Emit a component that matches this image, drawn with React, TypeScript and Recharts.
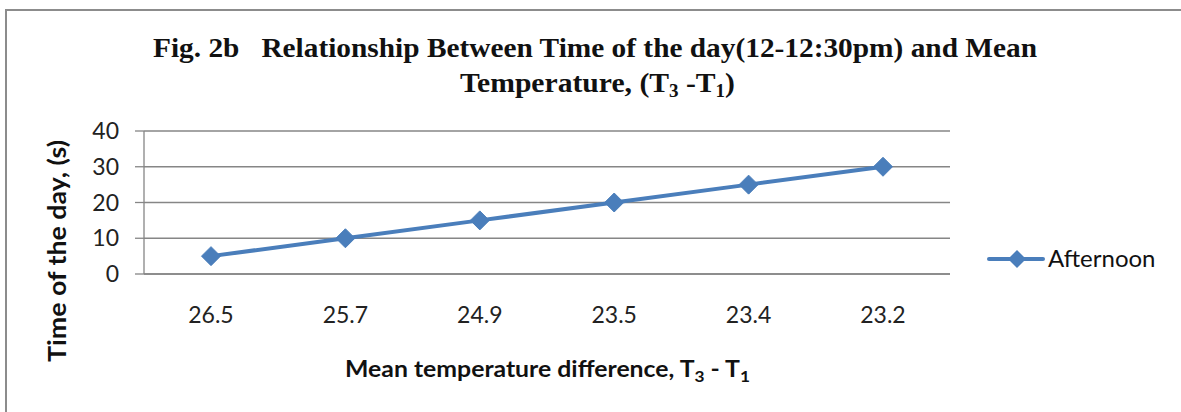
import { LineChart, Line, XAxis, YAxis, CartesianGrid } from 'recharts'

const categories = ['26.5', '25.7', '24.9', '23.5', '23.4', '23.2']
const afternoon = [5, 10, 15, 20, 25, 30]
const yTicks = [0, 10, 20, 30, 40]

const data = categories.map((c, i) => ({ cat: c, afternoon: afternoon[i] }))

const BLUE = '#4A7EBB'
const GRID = '#868686'
const SANS = 'Lato, "Open Sans", sans-serif'

function Diamond(props: any) {
  const { cx, cy } = props
  if (cx == null || cy == null) return null
  const r = 9.5
  return (
    <path
      d={`M${cx},${cy - r}L${cx + r},${cy}L${cx},${cy + r}L${cx - r},${cy}Z`}
      fill={BLUE}
      stroke={BLUE}
    />
  )
}

function App() {
  return (
    <div style={{ position: 'absolute', left: 0, top: 0, width: 1181, height: 412, background: '#fff', overflow: 'hidden' }}>
      <div
        style={{
          position: 'absolute',
          left: 5,
          top: 9,
          width: 1190,
          height: 420,
          border: '2px solid #8c8c8c',
        }}
      />
      <LineChart
        width={1181}
        height={412}
        data={data}
        margin={{ top: 131, right: 231, bottom: 0, left: 0 }}
        style={{ position: 'absolute', left: 0, top: 0 }}
      >
        <CartesianGrid vertical={false} stroke={GRID} strokeWidth={1.3} />
        <XAxis
          dataKey="cat"
          height={138}
          padding={{ left: 67, right: 67 }}
          axisLine={{ stroke: GRID, strokeWidth: 1.3 }}
          tickLine={false}
          tickMargin={27}
          tick={{ fill: '#222', fontSize: 23, fontFamily: SANS }}
        />
        <YAxis
          width={144}
          domain={[0, 40]}
          ticks={yTicks}
          axisLine={{ stroke: GRID, strokeWidth: 1.3 }}
          tickLine={{ stroke: GRID, strokeWidth: 1.3 }}
          tickSize={9}
          tickMargin={16}
          tick={{ fill: '#222', fontSize: 23, fontFamily: SANS }}
        />
        <Line
          dataKey="afternoon"
          stroke={BLUE}
          strokeWidth={4}
          dot={<Diamond />}
          activeDot={false}
          isAnimationActive={false}
        />
      </LineChart>
      <svg width={1181} height={412} style={{ position: 'absolute', left: 0, top: 0, pointerEvents: 'none' }}>
        <g fontFamily='"Liberation Serif", "Times New Roman", serif' fontWeight="bold" fill="#111">
          <text x={153} y={57} fontSize={28} textLength={884} lengthAdjust="spacingAndGlyphs" style={{ whiteSpace: 'pre' }}>
            Fig. 2b   Relationship Between Time of the day(12-12:30pm) and Mean
          </text>
          <text x={460} y={92} fontSize={28} textLength={275} lengthAdjust="spacingAndGlyphs">
            Temperature, (T<tspan fontSize={18} dy={5}>3</tspan>
            <tspan dy={-5}> -T</tspan>
            <tspan fontSize={18} dy={5}>1</tspan>
            <tspan dy={-5}>)</tspan>
          </text>
        </g>
        <text
          transform="translate(66,251) rotate(-90)"
          x={-111}
          y={0}
          fontFamily={SANS}
          fontWeight="bold"
          fontSize={24}
          fill="#111"
          textLength={222}
          lengthAdjust="spacingAndGlyphs"
        >
          Time of the day, (s)
        </text>
        <text
          x={345}
          y={377}
          fontFamily={SANS}
          fontWeight="bold"
          fontSize={23}
          fill="#111"
          textLength={405}
          lengthAdjust="spacingAndGlyphs"
        >
          Mean temperature difference, T<tspan fontSize={16} dy={5}>3</tspan>
          <tspan dy={-5}> - T</tspan>
          <tspan fontSize={16} dy={5}>1</tspan>
        </text>
        <line x1={989} y1={259} x2={1043} y2={259} stroke={BLUE} strokeWidth={4} strokeLinecap="round" />
        <path d="M1017,250L1026,259L1017,268L1008,259Z" fill={BLUE} />
        <text x={1048} y={267} fontFamily={SANS} fontSize={24} fill="#111">
          Afternoon
        </text>
      </svg>
    </div>
  )
}

export default App
